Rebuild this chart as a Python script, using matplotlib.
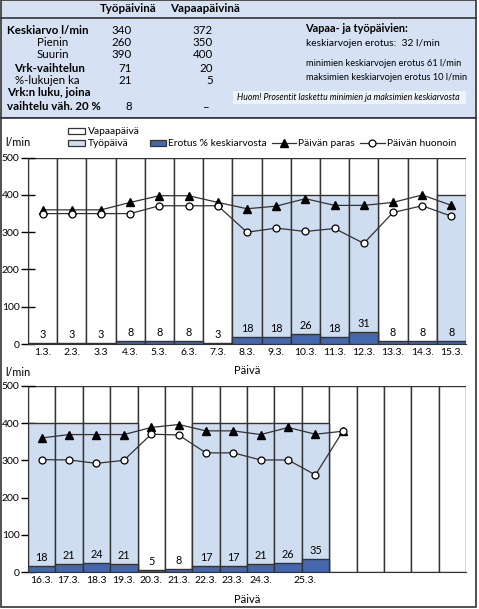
import numpy as np
import matplotlib
matplotlib.use('Agg')
import matplotlib.pyplot as plt
from matplotlib.patches import Rectangle

plt.rcParams['font.family'] = ['Lato', 'DejaVu Sans']

# data: top panel 1.3. - 15.3.
top_days = ['1.3.', '2.3.', '3.3', '4.3.', '5.3.', '6.3.', '7.3.', '8.3.',
            '9.3.', '10.3.', '11.3.', '12.3.', '13.3.', '14.3.', '15.3.']
top_work = [0, 0, 0, 0, 0, 0, 0, 1, 1, 1, 1, 1, 0, 0, 1]
top_pct = [3, 3, 3, 8, 8, 8, 3, 18, 18, 26, 18, 31, 8, 8, 8]
top_best = [360, 360, 360, 380, 398, 398, 380, 363, 370, 390, 372, 372, 380, 400, 372]
top_worst = [350, 350, 350, 350, 371, 371, 371, 300, 311, 302, 310, 270, 353, 371, 343]

# data: bottom panel 16.3. ->
bot_days = ['16.3.', '17.3.', '18.3', '19.3.', '20.3.', '21.3.', '22.3.',
            '23.3.', '24.3.', '25.3.']
bot_work = [1, 1, 1, 1, 0, 0, 1, 1, 1, 1, 1]
bot_pct = [18, 21, 24, 21, 5, 8, 17, 17, 21, 26, 35]
bot_best = [360, 369, 369, 369, 388, 396, 379, 379, 369, 388, 370, 378]
bot_worst = [302, 301, 292, 300, 370, 368, 320, 320, 301, 301, 261, 378]
bot_slots = 16

# table values
rows = ['Keskiarvo l/min', 'Pienin', 'Suurin', 'Vrk-vaihtelun', '%-lukujen ka']
work_vals = ['340', '260', '390', '71', '21']
free_vals = ['372', '350', '400', '20', '5']

c_light = '#cfddf1'
c_dark = '#4468b0'
c_edge = '#333333'
c_table = '#d6e2f3'

fig = plt.figure(figsize=(4.79, 6.09), dpi=100)

# background / table overlay in pixel coords
bg = fig.add_axes([0, 0, 1, 1], zorder=0)
bg.set_xlim(0, 479)
bg.set_ylim(609, 0)
bg.axis('off')
bg.add_patch(Rectangle((1, 0), 475, 117.5, facecolor=c_table, edgecolor=c_edge, lw=1.2))
bg.plot([1, 476], [17.5, 17.5], color=c_edge, lw=1.2)
bg.add_patch(Rectangle((1, 117.5), 475, 489, facecolor='white', edgecolor=c_edge, lw=1.2))

fs = 8.3
bg.text(128, 8, 'Työpäivinä', ha='center', va='center', fontsize=fs, weight='bold')
bg.text(205, 8, 'Vapaapäivinä', ha='center', va='center', fontsize=fs, weight='bold')
row_y = [30, 43, 55, 68, 80]
row_x = [7, 53, 53, 50, 47]
for i, r in enumerate(rows):
    bold = i in (0, 3)
    if i == 0:
        bg.text(row_x[i], row_y[i], r, ha='left', va='center', fontsize=fs, weight='bold')
    else:
        bg.text(row_x[i], row_y[i], r, ha='center', va='center', fontsize=fs,
                weight='bold' if bold else 'normal')
    bg.text(132, row_y[i], work_vals[i], ha='right', va='center', fontsize=fs)
    bg.text(213, row_y[i], free_vals[i], ha='right', va='center', fontsize=fs)
bg.text(7, 93, 'Vrk:n luku, joina', ha='left', va='center', fontsize=fs, weight='bold')
bg.text(7, 107, 'vaihtelu väh. 20 %', ha='left', va='center', fontsize=fs, weight='bold')
bg.text(132, 107, '8', ha='right', va='center', fontsize=fs)
bg.text(210, 108, '–', ha='right', va='center', fontsize=fs)

bg.text(305, 29, 'Vapaa- ja työpäivien:', ha='left', va='center', fontsize=7.9, weight='bold')
bg.text(306, 43, 'keskiarvojen erotus:  32 l/min', ha='left', va='center', fontsize=7.4)
bg.text(306, 63, 'minimien keskiarvojen erotus 61 l/min', ha='left', va='center', fontsize=6.7)
bg.text(306, 77, 'maksimien keskiarvojen erotus 10 l/min', ha='left', va='center', fontsize=6.7)
bg.add_patch(Rectangle((233, 91), 233, 13, facecolor='#eef2f9', edgecolor='none'))
bg.text(237, 97.5, 'Huom! Prosentit laskettu minimien ja maksimien keskiarvosta',
        ha='left', va='center', fontsize=6.3, style='italic')

# legend
lfs = 7.4
bg.add_patch(Rectangle((68, 128), 17, 6, facecolor='white', edgecolor=c_edge, lw=0.9))
bg.text(88, 131, 'Vapaapäivä', ha='left', va='center', fontsize=lfs)
bg.add_patch(Rectangle((68, 140), 17, 6, facecolor=c_light, edgecolor=c_edge, lw=0.9))
bg.text(88, 143, 'Työpäivä', ha='left', va='center', fontsize=lfs)
bg.add_patch(Rectangle((150, 140), 16, 6, facecolor=c_dark, edgecolor=c_edge, lw=0.9))
bg.text(168, 143, 'Erotus % keskiarvosta', ha='left', va='center', fontsize=lfs)
bg.plot([272, 296], [143, 143], color=c_edge, lw=0.9)
bg.plot([284], [143], marker='^', color='black', ms=6)
bg.text(298, 143, 'Päivän paras', ha='left', va='center', fontsize=lfs)
bg.plot([360, 385], [143, 143], color=c_edge, lw=0.9)
bg.plot([372.5], [143], marker='o', mfc='white', mec='black', ms=5, mew=0.9)
bg.text(387, 143, 'Päivän huonoin', ha='left', va='center', fontsize=lfs)


def draw_panel(ax, n_slots, work, pct, best, worst):
    x_all = np.arange(n_slots)
    ax.bar(x_all, [500] * n_slots, width=1, color='white', edgecolor=c_edge, lw=1, zorder=1)
    xw = [i for i, w in enumerate(work) if w]
    ax.bar(xw, [400] * len(xw), width=1, color=c_light, edgecolor=c_edge, lw=1, zorder=2)
    xp = np.arange(len(pct))
    ax.bar(xp, pct, width=1, color=c_dark, edgecolor=c_edge, lw=1, zorder=3)
    for i, p in enumerate(pct):
        ax.text(i, p + 8, str(p), ha='center', va='bottom', fontsize=7.8, zorder=5)
    xl = np.arange(len(best))
    ax.plot(xl, best, color=c_edge, lw=0.9, marker='^', mfc='black', mec='black', ms=6, zorder=4)
    ax.plot(xl, worst, color=c_edge, lw=0.9, marker='o', mfc='white', mec='black',
            ms=5, mew=0.9, zorder=4)
    ax.set_xlim(-0.5, n_slots - 0.5)
    ax.set_ylim(0, 500)
    ax.set_yticks([0, 100, 200, 300, 400, 500])
    ax.tick_params(axis='y', direction='inout', length=10, width=1, labelsize=7.5, pad=1)
    ax.tick_params(axis='x', length=0, labelsize=7.5, pad=3)
    for s in ['top', 'right']:
        ax.spines[s].set_visible(False)
    ax.spines['left'].set_color(c_edge)
    ax.spines['bottom'].set_color(c_edge)
    ax.set_facecolor('none')
    ax.set_xlabel('Päivä', fontsize=8, labelpad=6)


ax1 = fig.add_axes([28 / 479, 1 - 344 / 609, 438 / 479, 186.3 / 609], zorder=1)
draw_panel(ax1, len(top_days), top_work, top_pct, top_best, top_worst)
ax1.set_xticks(np.arange(len(top_days)))
ax1.set_xticklabels(top_days)

ax2 = fig.add_axes([28 / 479, 1 - 572.3 / 609, 438 / 479, 186.6 / 609], zorder=1)
draw_panel(ax2, bot_slots, bot_work, bot_pct, bot_best, bot_worst)
ax2.set_xticks([0, 1, 2, 3, 4, 5, 6, 7, 8, 9.6])
ax2.set_xticklabels(bot_days)

bg.text(5, 143, 'l/min', ha='left', va='center', fontsize=7.8)
bg.text(5, 373, 'l/min', ha='left', va='center', fontsize=7.8)

fig.savefig('out.png', dpi=100)
